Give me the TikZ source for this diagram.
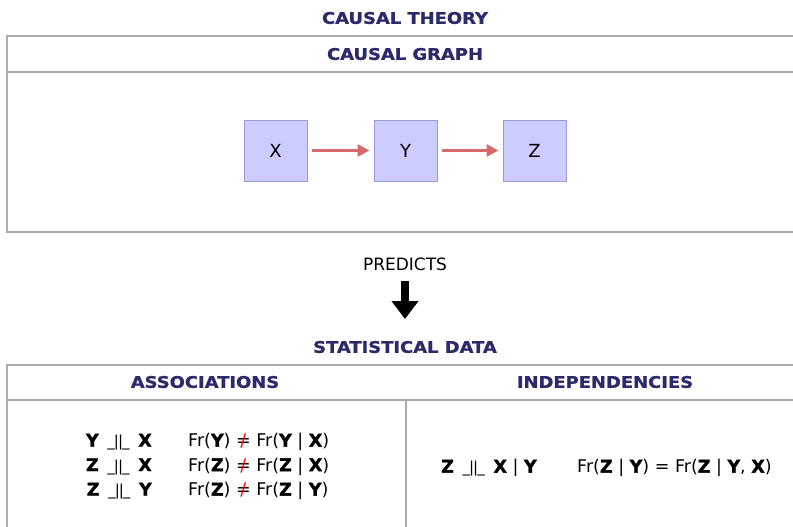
\documentclass[tikz,border=0pt]{standalone}
\usepackage{fontspec}
\setmainfont{DejaVu Sans}
\newfontfamily\hdfont[FakeStretch=1.12,FakeBold=1.2]{DejaVu Sans}
\newfontfamily\heavy[FakeBold=1.5]{DejaVu Sans}
\usetikzlibrary{arrows.meta}
\definecolor{navy}{HTML}{2B2B6B}
\definecolor{frame}{HTML}{ABABAB}
\definecolor{boxfill}{HTML}{CCCCFF}
\definecolor{boxline}{HTML}{9A9AD8}
\definecolor{redarrow}{HTML}{D46A6A}
\newcommand{\rneq}{\ooalign{=\cr\hidewidth\textcolor{red}{/}\hidewidth\cr}}
\newcommand{\B}[1]{{\heavy\bfseries #1}}
\newcommand{\indep}{\enspace{\fontsize{15}{17}\selectfont\_\kern-1pt|\kern-1pt|\kern-1pt\_}\enspace}
\tikzset{
  heading/.style={font=\hdfont\bfseries\fontsize{16}{18}\selectfont, text=navy, inner sep=0pt},
  var/.style={draw=boxline, line width=1pt, fill=boxfill, minimum width=63pt, minimum height=61pt, inner sep=0pt, font=\fontsize{18}{20}\selectfont},
  causal/.style={draw=redarrow, line width=3pt, -{Triangle[width=12pt,length=12pt]}, shorten <=4pt, shorten >=4pt},
  rule/.style={draw=frame, line width=2pt},
  txt/.style={inner sep=0pt, font=\fontsize{17}{19}\selectfont},
  formula/.style={inner sep=0pt, font=\fontsize{17.5}{19}\selectfont}
}
\begin{document}
\begin{tikzpicture}[x=1pt,y=-1pt]
\useasboundingbox (0,0) rectangle (793,527);
% titles
\node[heading] (theory) at (405,18) {CAUSAL THEORY};
\node[heading] (graph) at (405,54) {CAUSAL GRAPH};
% top frame
\draw[rule] (795,36) -- (6.5,36) -- (6.5,231.5) -- (795,231.5);
\draw[rule] (6.5,72) -- (795,72);
% graph nodes
\node[var] (X) at (275.5,150.5) {X};
\node[var] (Y) at (405.5,150.5) {Y};
\node[var] (Z) at (534.5,150.5) {Z};
\draw[causal] (X) -- (Y);
\draw[causal] (Y) -- (Z);
% predicts
\node[txt] (predicts) at (405,264) {PREDICTS};
\node[heading] (stat) at (405,347) {STATISTICAL DATA};
\coordinate (pa) at (405,281);
\coordinate (pb) at (405,319);
\draw[line width=8pt, -{Triangle[width=26pt,length=18pt]}] (pa) -- (pb);
% bottom frame
\draw[rule] (795,364.5) -- (6.5,364.5) -- (6.5,529);
\draw[rule] (6.5,399.5) -- (795,399.5);
\draw[rule] (406,399.5) -- (406,529);
\node[heading] (assoc) at (205,382) {ASSOCIATIONS};
\node[heading] (indep) at (605,382) {INDEPENDENCIES};
% associations
\node[formula, anchor=east] (a1) at (152,442) {\B{Y}\indep\B{X}};
\node[formula, anchor=east] (a2) at (152,466.5) {\B{Z}\indep\B{X}};
\node[formula, anchor=east] (a3) at (152,491) {\B{Z}\indep\B{Y}};
\node[formula, anchor=west] (f1) at (188,442) {Fr(\B{Y}) \rneq{} Fr(\B{Y} | \B{X})};
\node[formula, anchor=west] (f2) at (188,466.5) {Fr(\B{Z}) \rneq{} Fr(\B{Z} | \B{X})};
\node[formula, anchor=west] (f3) at (188,491) {Fr(\B{Z}) \rneq{} Fr(\B{Z} | \B{Y})};
% independencies
\node[formula, anchor=west] (i1) at (441,468) {\B{Z}\indep\B{X} | \B{Y}};
\node[formula, anchor=west] (g1) at (577,468) {Fr(\B{Z} | \B{Y}) = Fr(\B{Z} | \B{Y}, \B{X})};
\end{tikzpicture}
\end{document}
